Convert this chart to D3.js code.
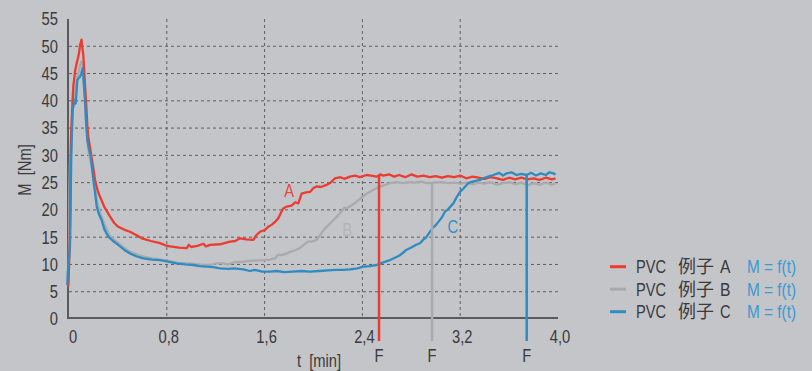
<!DOCTYPE html>
<html><head><meta charset="utf-8">
<script src="https://cdn.jsdelivr.net/npm/d3@7/dist/d3.min.js"></script>
<style>
html,body{margin:0;padding:0;background:#c4c5c9;}
svg{display:block;}
text{font-family:"Liberation Sans",Arimo,"Noto Sans CJK SC",sans-serif;}
</style></head>
<body><svg id="c" width="812" height="371"></svg>
<script>
const yTicks = [0,5,10,15,20,25,30,35,40,45,50,55];
const xTicks = [0,0.8,1.6,2.4,3.2,4.0];
const xTickLabels = ["0","0,8","1,6","2,4","3,2","4,0"];
const seriesPrefix = "PVC";
const seriesCJK = "例子";
const seriesLetters = ["A","B","C"];
const legendFormula = "M = f(t)";
const xTitle = "t  [min]";
const yTitle = "M  [Nm]";

const seriesA = [[-0.006,5.9],[0.0,9.5],[0.006,14],[0.01,22],[0.016,32.8],[0.025,38],[0.035,42.6],[0.05,45.5],[0.063,46.9],[0.082,48.7],[0.09,50.2],[0.102,51.2],[0.11,49.5],[0.117,48.4],[0.128,44],[0.139,40],[0.15,35.5],[0.158,33.4],[0.172,31.5],[0.186,29.5],[0.2,27.5],[0.213,25.5],[0.235,23.5],[0.254,22.4],[0.29,20.5],[0.335,18.8],[0.37,17.6],[0.403,16.9],[0.45,16.4],[0.499,16.0],[0.55,15.4],[0.595,14.8],[0.67,14.3],[0.744,13.9],[0.79,13.5],[0.826,13.3],[0.9,13.1],[0.963,13.0],[0.98,13.6],[1.0,13.2],[1.05,13.4],[1.1,13.8],[1.12,13.3],[1.153,13.6],[1.235,13.7],[1.317,14.2],[1.36,14.3],[1.399,14.8],[1.45,14.6],[1.508,14.5],[1.53,15.3],[1.562,16.0],[1.6,16.3],[1.63,16.9],[1.66,17.3],[1.685,17.8],[1.71,18.4],[1.726,19.1],[1.75,20.2],[1.78,20.6],[1.82,20.8],[1.85,21.4],[1.876,21.2],[1.903,23.0],[1.94,23.2],[1.971,23.3],[2.0,24.0],[2.026,24.3],[2.06,24.2],[2.108,24.6],[2.14,25.0],[2.176,25.8],[2.22,26.0],[2.25,25.7],[2.299,26.1],[2.34,26.3],[2.38,26.0],[2.435,26.4],[2.47,26.3],[2.517,26.1],[2.545,26.5],[2.571,26.3],[2.62,26.5],[2.66,26.1],[2.7,26.4],[2.75,26.0],[2.8,26.5],[2.85,26.1],[2.9,26.3],[2.95,26.0],[3.0,26.2],[3.05,25.9],[3.1,26.2],[3.15,26.0],[3.2,26.3],[3.25,25.8],[3.3,26.1],[3.35,25.9],[3.4,25.7],[3.45,26.0],[3.5,25.8],[3.55,25.5],[3.6,25.9],[3.65,25.6],[3.7,25.9],[3.75,25.6],[3.8,25.8],[3.85,25.5],[3.9,25.9],[3.95,25.6],[3.98,25.8]];

const seriesB = [[-0.004,6.5],[0.0,12],[0.004,24],[0.008,28.5],[0.014,30],[0.02,33],[0.03,38],[0.045,41.5],[0.06,43.5],[0.075,45],[0.09,46.5],[0.1,47.2],[0.11,46.5],[0.12,44],[0.13,40],[0.142,35],[0.155,31.5],[0.17,29.5],[0.19,27.5],[0.205,25.5],[0.23,21.5],[0.25,19.8],[0.27,18.6],[0.3,16.8],[0.33,15.4],[0.37,14.5],[0.41,13.8],[0.46,12.9],[0.51,12.2],[0.56,11.8],[0.62,11.4],[0.68,11.1],[0.75,10.9],[0.82,10.6],[0.89,10.3],[0.96,10.2],[1.02,10.1],[1.09,9.9],[1.153,9.9],[1.2,10.2],[1.262,10.2],[1.3,10.0],[1.35,10.4],[1.426,10.5],[1.5,10.7],[1.589,10.8],[1.64,10.9],[1.685,11.1],[1.71,11.8],[1.74,11.7],[1.78,12.0],[1.808,12.3],[1.85,12.6],[1.889,13.0],[1.92,13.6],[1.957,14.2],[1.99,14.2],[2.026,14.5],[2.06,15.6],[2.094,16.6],[2.13,17.4],[2.162,18.1],[2.2,19.0],[2.231,19.7],[2.25,20.4],[2.272,20.3],[2.31,20.8],[2.353,21.5],[2.39,22.2],[2.435,23.0],[2.47,23.4],[2.517,24.0],[2.56,24.4],[2.626,24.9],[2.68,25.1],[2.73,24.9],[2.78,25.1],[2.83,25.0],[2.88,25.2],[2.93,24.9],[2.98,25.0],[3.05,25.1],[3.1,24.9],[3.15,25.0],[3.2,24.8],[3.25,25.0],[3.3,24.7],[3.35,25.0],[3.4,24.8],[3.45,25.1],[3.5,24.6],[3.55,24.9],[3.6,25.1],[3.65,24.7],[3.7,25.0],[3.75,24.5],[3.8,24.9],[3.85,24.6],[3.9,25.0],[3.95,24.6],[3.98,24.9]];

const seriesC = [[-0.014,6.2],[-0.01,8.5],[-0.006,9.6],[0.0,11],[0.008,13.3],[0.012,18],[0.015,24],[0.018,29.2],[0.025,35],[0.03,38.3],[0.04,39.5],[0.049,40.2],[0.055,39.5],[0.068,43.8],[0.08,44.2],[0.09,44.4],[0.1,45.0],[0.112,46.0],[0.12,43.5],[0.131,40.2],[0.14,36],[0.15,32.8],[0.165,31.0],[0.178,29.8],[0.199,25.5],[0.215,22.8],[0.227,20.6],[0.245,19.2],[0.267,18.1],[0.29,16.4],[0.321,15.1],[0.36,14.3],[0.403,13.6],[0.45,12.7],[0.499,12.0],[0.55,11.5],[0.608,11.1],[0.68,10.9],[0.744,10.8],[0.81,10.5],[0.881,10.2],[0.95,10.0],[1.017,9.9],[1.07,9.7],[1.126,9.6],[1.18,9.5],[1.235,9.3],[1.3,9.2],[1.35,9.3],[1.426,9.1],[1.48,8.8],[1.52,9.0],[1.58,8.7],[1.644,8.7],[1.7,8.8],[1.76,8.6],[1.83,8.7],[1.9,8.8],[1.971,8.7],[2.05,8.8],[2.12,8.9],[2.18,9.0],[2.244,9.0],[2.3,9.1],[2.36,9.3],[2.407,9.6],[2.46,9.7],[2.517,9.9],[2.56,10.3],[2.6,10.6],[2.626,10.8],[2.653,11.1],[2.7,11.6],[2.73,12.1],[2.762,12.7],[2.8,13.1],[2.84,13.6],[2.871,13.9],[2.9,14.6],[2.92,14.9],[2.953,16.0],[2.98,16.8],[3.0,17.2],[3.021,17.8],[3.05,18.6],[3.076,19.7],[3.1,20.1],[3.144,21.2],[3.17,22.3],[3.198,23.3],[3.23,24.0],[3.266,24.9],[3.3,25.2],[3.362,25.5],[3.4,25.9],[3.44,26.2],[3.471,26.4],[3.52,26.8],[3.55,26.3],[3.581,26.7],[3.62,26.9],[3.66,26.4],[3.7,26.6],[3.744,26.4],[3.78,26.8],[3.82,26.3],[3.86,26.7],[3.9,26.4],[3.93,26.9],[3.962,26.7],[3.98,26.5]];

const fTimes = [2.536, 2.97, 3.744];
const fTops = [26.3, 24.9, 26.5];
const fLabel = "F";
const letterPos = [[1.80,22.3],[2.275,15.3],[3.14,15.7]];

const colors = ["#ec3b30","#a9aaac","#2e8cc3"];
const letterColors = ["#e8473d","#b3b4b6","#3690c6"];
const textColor = "#3a3a3c";
const formulaColor = "#3a9ad4";
const SX = 0.82;

const svg = d3.select("#c");
const x = d3.scaleLinear().domain([0,4]).range([69,558]);
const y = d3.scaleLinear().domain([0,55]).range([319,19]);

function txt(px, py, str, anchor, fill, extra) {
  return svg.append("text")
    .attr("transform", `translate(${px},${py})${extra||""} scale(${SX},1)`)
    .attr("text-anchor", anchor).attr("font-size", 18).attr("fill", fill)
    .style("white-space","pre").text(str);
}

// grid
svg.append("g").selectAll("line").data(yTicks.filter(v=>v>0&&v<55)).join("line")
  .attr("x1",x(0)).attr("x2",x(4)).attr("y1",d=>y(d)).attr("y2",d=>y(d))
  .attr("stroke","#5d5e61").attr("stroke-width",1).attr("stroke-dasharray","3,3");
svg.append("g").selectAll("line").data(xTicks.filter(v=>v>0&&v<4)).join("line")
  .attr("x1",d=>x(d)).attr("x2",d=>x(d)).attr("y1",y(55)).attr("y2",y(0))
  .attr("stroke","#5d5e61").attr("stroke-width",1).attr("stroke-dasharray","3,3");

// axis lines
svg.append("line").attr("x1",x(0)-1).attr("x2",x(0)-1).attr("y1",y(55)).attr("y2",y(0))
  .attr("stroke","#5a5b5e").attr("stroke-width",2);
svg.append("line").attr("x1",x(0)-2).attr("x2",x(4)).attr("y1",y(0)-1).attr("y2",y(0)-1)
  .attr("stroke","#5a5b5e").attr("stroke-width",2);

// tick labels
yTicks.forEach(v => txt(58, y(v)+6.4, String(v), "end", textColor));
xTicks.forEach((v,i) => txt(x(v)+(i===0?4:2), y(0)+24, xTickLabels[i], "middle", textColor));

// titles
txt(319, 367, xTitle, "middle", textColor);
txt(31, 170, yTitle, "middle", textColor, " rotate(-90)");

// curves
const line = d3.line().x(d=>x(d[0])).y(d=>y(d[1]));
const data = [seriesA, seriesB, seriesC];
[1,0,2].forEach(i=>{
  svg.append("path").attr("d",line(data[i])).attr("fill","none")
    .attr("stroke",colors[i]).attr("stroke-width",2.3).attr("stroke-linejoin","round");
});

// F markers
fTimes.forEach((t,i)=>{
  svg.append("line").attr("x1",x(t)).attr("x2",x(t)).attr("y1",y(fTops[i])).attr("y2",y(0)+22)
    .attr("stroke",colors[i]).attr("stroke-width",2.5);
  txt(x(t), y(0)+43, fLabel, "middle", textColor);
});

// curve letters
letterPos.forEach((p,i)=> txt(x(p[0]), y(p[1]), seriesLetters[i], "middle", letterColors[i]));

// legend
seriesLetters.forEach((L,i)=>{
  const ly = 266.7 + i*22.5;
  svg.append("line").attr("x1",610).attr("x2",626).attr("y1",ly).attr("y2",ly)
    .attr("stroke",colors[i]).attr("stroke-width",3);
  const t = svg.append("text").attr("y",ly+6.6).attr("font-size",18).attr("fill",textColor);
  t.append("tspan").attr("x",636).attr("textLength",30).attr("lengthAdjust","spacingAndGlyphs").text(seriesPrefix);
  t.append("tspan").attr("x",678).text(seriesCJK);
  t.append("tspan").attr("x",720).attr("textLength",10.5).attr("lengthAdjust","spacingAndGlyphs").text(L);
  t.append("tspan").attr("x",747).attr("textLength",49).attr("lengthAdjust","spacingAndGlyphs")
    .attr("fill",formulaColor).style("white-space","pre").text(legendFormula);
});
</script></body></html>
